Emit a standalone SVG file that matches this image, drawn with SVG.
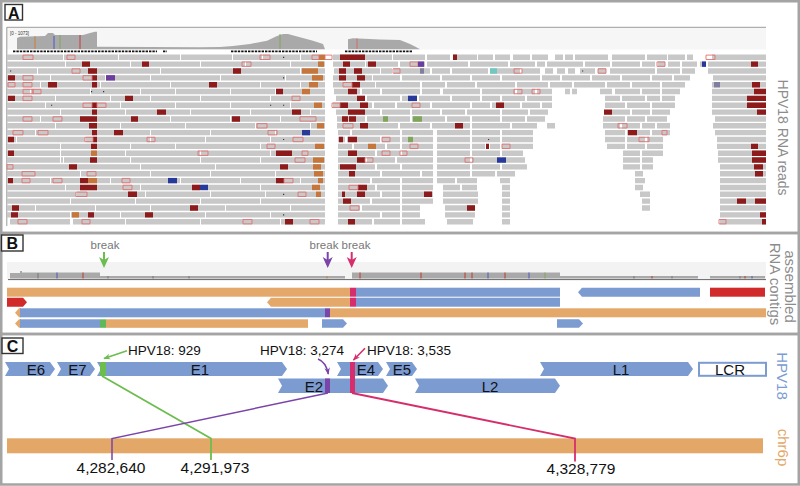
<svg xmlns="http://www.w3.org/2000/svg" width="800" height="486" viewBox="0 0 800 486">
<style>
text{font-family:'Liberation Sans',Arial,Helvetica,sans-serif}
.frame{fill:none;stroke:#a4a4a4;stroke-width:2.5}
.lab{fill:#fff;stroke:#333;stroke-width:1.4}
.labt{font-size:16px;font-weight:bold;text-anchor:middle;fill:#111}
.r{fill:none;stroke:#c8c8c8;stroke-width:5.4}
.m{fill:none;stroke:#8e1b1b;stroke-width:5.4}
.o{fill:none;stroke:#c6763a;stroke-width:5.4}
.b{fill:none;stroke:#27399a;stroke-width:5.4}
.p{fill:none;stroke:#6a3d9e;stroke-width:5.4}
.g{fill:none;stroke:#7ea65a;stroke-width:5.4}
.gp{fill:none;stroke:#7f7f9f;stroke-width:5.4}
.t{fill:none;stroke:#70c8c0;stroke-width:5.4}
.k{fill:none;stroke:#e07070;stroke-width:.9}
.dt{fill:#333}
.side{font-size:14px;fill:#8c8c8c;text-anchor:middle}
.gene{fill:#7b9bd1}
.gl{font-size:15px;text-anchor:middle;fill:#111}
.ann{font-size:13.5px;fill:#111}
.num{font-size:15.5px;text-anchor:middle;fill:#111}
.brk{font-size:11.5px;text-anchor:middle;fill:#777}
.cov{fill:#a9a9a9}
.co{fill:#e3a86a}
.cb{fill:#7b9bd1}
.cr{fill:#d12a2a}
.cpk{fill:#d62e6c}
.cpu{fill:#7a44a8}
.cgr{fill:#5fb85a}
</style>
<defs>
<marker id="ah-g" viewBox="0 0 10 10" refX="9" refY="5" markerWidth="7" markerHeight="7" markerUnits="userSpaceOnUse" orient="auto"><path d="M0 1L10 5L0 9L3 5Z" fill="#6cbd4f"/></marker>
<marker id="ah-p" viewBox="0 0 10 10" refX="9" refY="5" markerWidth="7" markerHeight="7" markerUnits="userSpaceOnUse" orient="auto"><path d="M0 1L10 5L0 9L3 5Z" fill="#7a44a8"/></marker>
<marker id="ah-k" viewBox="0 0 10 10" refX="9" refY="5" markerWidth="7" markerHeight="7" markerUnits="userSpaceOnUse" orient="auto"><path d="M0 1L10 5L0 9L3 5Z" fill="#d62e6c"/></marker>
</defs>
<rect width="800" height="486" fill="#fff"/>

<!-- PANEL A -->
<g id="panel-a">
<rect class="frame" x="1.25" y="1.25" width="797.5" height="231.75"/>
<rect class="lab" x="5" y="4.5" width="17.5" height="15.5"/>
<text class="labt" x="13.8" y="18.5">A</text>
<rect x="7" y="28" width="759" height="21.5" fill="#f6f6f6"/>
<path d="M7 27.3H766M6.8 27V226" stroke="#9a9a9a" stroke-width="1" fill="none"/>
<text x="10" y="34.5" font-size="4.5" fill="#333">[0 - 1073]</text>
<path class="cov" d="M17 49.3V38L20 36.7L45 36L48 33L53 33L55 35L83 35L90 33L95 31.7L97 31.7V46.7L150 47L200 47.3L220 47L233 46L250 44L267 40.7L277 36L283 34L288 34L300 37.3L313 40.7L323 44L325 49.3Z"/>
<path class="cov" d="M348 49.3V39.3L353 38.3L380 39.5L400 40L405 42L410 44L415 46.5L420 49.3Z"/>
<g stroke-width="1" fill="none">
<path stroke="#c87d3a" d="M35 36.2V49"/><path stroke="#4a5bc0" d="M54 36V49"/><path stroke="#7fa858" d="M60 35V49"/><path stroke="#c83a3a" d="M80 35V49"/><path stroke="#7fa858" d="M280 34V49"/><path stroke="#d86a6a" d="M357 38.5V49"/>
</g>
<path d="M13 51.3H157M163 51.3H167M231 51.3H317M345 51.3H412" stroke="#111" stroke-width="1.8" stroke-dasharray="2.4 1" fill="none"/>

<g id="reads">
<g transform="translate(0,57.3)">
<path class="r" d="M7 0H63M64 0H118M119 0H180M181 0H232M233 0H262M263 0H300M301 0H325M333 0H392M393 0H425M427 0H450M453 0H477M478 0H493M495 0H510M513 0H530M532 0H548M555 0H563M565 0H573M575 0H608M612 0H645M647 0H667M668 0H685M687 0H693M712 0H766"/>
<path class="m" d="M340 0H365M453 0H457"/><path class="o" d="M319 0H325"/>
<path class="k" d="M23-2.2h10v4.4h-10zM67-2.2h8v4.4h-8zM260-2.2h10v4.4h-10zM312-2.2h7v4.4h-7zM325-2.2h7v4.4h-7zM706-2.2h9v4.4h-9z"/>
<path class="dt" d="M283-.6h1.2v1.2h-1.2z"/>
</g>
<g transform="translate(0,64.15)">
<path class="r" d="M7 0H65M66 0H130M131 0H200M201 0H245M246 0H290M291 0H325M333 0H365M366 0H398M400 0H425M427 0H468M470 0H508M510 0H535M537 0H545M547 0H583M585 0H610M612 0H640M642 0H655M658 0H665M668 0H680M682 0H697M700 0H706M708 0H766"/>
<path class="m" d="M82 0H90M142 0H149M343 0H350M368 0H376M751 0H758"/>
<path class="k" d="M242-2.2h9v4.4h-9zM410-2.2h8v4.4h-8zM657-2.2h8v4.4h-8z"/>
<path class="o" d="M318 0H324"/><path class="p" d="M418 0H424"/><path class="b" d="M702 0H706"/>
</g>
<g transform="translate(0,71)">
<path class="r" d="M7 0H37M38 0H95M96 0H160M161 0H235M236 0H300M301 0H325M334 0H380M381 0H392M394 0H430M432 0H450M452 0H488M490 0H520M522 0H540M545 0H553M557 0H565M568 0H575M580 0H595M598 0H606M610 0H655M657 0H680M682 0H695M708 0H766"/>
<path class="m" d="M88 0H97M233 0H241M339 0H346M354 0H362"/>
<path class="k" d="M72-2.2h8v4.4h-8zM393-2.2h7v4.4h-7zM514-2.2h8v4.4h-8zM598-2.2h8v4.4h-8z"/>
<path class="o" d="M302 0H318"/><path class="gp" d="M420 0H424"/><path class="t" d="M490 0H497"/>
<path class="dt" d="M10-.6h1.2v1.2h-1.2zM582-.6h1.2v1.2h-1.2z"/>
</g>
<g transform="translate(0,77.85)">
<path class="r" d="M7 0H50M51 0H105M106 0H150M151 0H220M221 0H285M286 0H325M333 0H372M373 0H400M402 0H440M442 0H470M472 0H500M502 0H540M542 0H560M562 0H590M592 0H620M622 0H650M652 0H672M674 0H690M713 0H766"/>
<path class="m" d="M8 0H15M92 0H97M339 0H346M357 0H365"/>
<path class="k" d="M23-2.2h10v4.4h-10zM83-2.2h9v4.4h-9z"/>
<path class="p" d="M106 0H115"/><path class="o" d="M312 0H323"/>
<path class="dt" d="M283-.6h1.2v1.2h-1.2z"/>
</g>
<g transform="translate(0,84.7)">
<path class="r" d="M7 0H40M41 0H100M101 0H170M171 0H210M211 0H260M261 0H300M301 0H325M333 0H375M376 0H420M422 0H445M447 0H475M477 0H515M517 0H548M550 0H572M574 0H605M607 0H630M632 0H660M662 0H685M712 0H766"/>
<path class="m" d="M48 0H57M92 0H97M209 0H217M352 0H360M752 0H760"/>
<path class="k" d="M8-2.2h7v4.4h-7zM23-2.2h9v4.4h-9zM343-2.2h9v4.4h-9z"/>
<path class="o" d="M309 0H318"/><path class="gp" d="M714 0H720"/>
</g>
<g transform="translate(0,91.55)">
<path class="r" d="M7 0H30M31 0H90M91 0H140M141 0H175M176 0H230M231 0H275M276 0H325M334 0H360M362 0H380M382 0H420M422 0H440M443 0H480M482 0H515M517 0H535M537 0H552M565 0H570M572 0H577M600 0H612M615 0H640M642 0H660M662 0H680M712 0H766"/>
<path class="k" d="M23-2.2h10v4.4h-10zM33-2.2h8v4.4h-8zM514-2.2h8v4.4h-8zM532-2.2h8v4.4h-8z"/>
<path class="m" d="M276 0H283M348 0H357M754 0H766"/><path class="o" d="M302 0H310"/>
<path class="dt" d="M91-.6h1.2v1.2h-1.2zM103-.6h1.2v1.2h-1.2z"/>
</g>
<g transform="translate(0,98.4)">
<path class="r" d="M7 0H55M56 0H110M111 0H150M151 0H200M201 0H270M271 0H325M336 0H365M367 0H400M402 0H417M419 0H450M452 0H480M482 0H500M502 0H525M527 0H552M605 0H620M622 0H645M647 0H660M662 0H675M712 0H766"/>
<path class="m" d="M8 0H15M125 0H133M357 0H365M747 0H766"/>
<path class="k" d="M23-2.2h9v4.4h-9zM292-2.2h8v4.4h-8z"/><path class="b" d="M408 0H417"/>
</g>
<g transform="translate(0,105.25)">
<path class="r" d="M7 0H45M46 0H120M121 0H175M176 0H230M231 0H290M291 0H325M333 0H372M374 0H395M397 0H430M432 0H470M472 0H490M492 0H520M522 0H540M542 0H552M605 0H625M627 0H650M652 0H675M712 0H766"/>
<path class="m" d="M92 0H97M340 0H348M360 0H368M496 0H504M747 0H766"/>
<path class="k" d="M83-2.2h9v4.4h-9zM97-2.2h9v4.4h-9zM332-2.2h8v4.4h-8zM412-2.2h8v4.4h-8z"/>
<path class="o" d="M314 0H322"/>
<path class="dt" d="M51-.6h1.2v1.2h-1.2zM270-.6h1.2v1.2h-1.2zM283-.6h1.2v1.2h-1.2z"/>
</g>
<g transform="translate(0,112.1)">
<path class="r" d="M7 0H60M61 0H125M126 0H190M191 0H250M251 0H310M311 0H325M336 0H380M382 0H410M412 0H440M442 0H465M467 0H500M502 0H528M530 0H548M612 0H630M632 0H650M652 0H670M712 0H766"/>
<path class="m" d="M92 0H97M157 0H166M292 0H301M348 0H365M604 0H612M757 0H766"/>
</g>
<g transform="translate(0,118.95)">
<path class="r" d="M7 0H40M41 0H95M96 0H170M171 0H230M231 0H280M281 0H325M337 0H365M367 0H410M412 0H445M447 0H470M472 0H500M502 0H525M527 0H545M603 0H625M627 0H645M647 0H667M715 0H766"/>
<path class="k" d="M23-2.2h9v4.4h-9zM53-2.2h9v4.4h-9zM300-2.2h16v4.4h-16z"/>
<path class="m" d="M80 0H97M131 0H138M232 0H240M342 0H348M349 0H356"/>
<path class="g" d="M383 0H388M413 0H422"/>
</g>
<g transform="translate(0,125.8)">
<path class="r" d="M7 0H55M56 0H120M121 0H185M186 0H255M256 0H310M311 0H325M337 0H360M362 0H398M400 0H430M432 0H470M472 0H510M512 0H537M547 0H555M603 0H620M622 0H640M642 0H655M657 0H670M713 0H766"/>
<path class="m" d="M89 0H97M360 0H368M455 0H463"/>
<path class="k" d="M257-2.2h10v4.4h-10zM343-2.2h10v4.4h-10zM618-2.2h9v4.4h-9z"/>
<path class="o" d="M317 0H324"/>
</g>
<g transform="translate(0,132.65)">
<path class="r" d="M7 0H35M36 0H95M96 0H150M151 0H210M211 0H275M276 0H325M338 0H350M352 0H400M402 0H433M437 0H470M472 0H500M502 0H533M605 0H625M627 0H650M652 0H670M715 0H766"/>
<path class="k" d="M13-2.2h10v4.4h-10zM38-2.2h10v4.4h-10zM268-2.2h9v4.4h-9zM662-2.2h5v4.4h-5z"/>
<path class="m" d="M92 0H97M114 0H123M628 0H637"/><path class="b" d="M302 0H310"/>
</g>
<g transform="translate(0,139.5)">
<path class="r" d="M7 0H16M17 0H85M86 0H150M151 0H205M206 0H270M271 0H325M338 0H345M347 0H380M382 0H400M402 0H433M437 0H470M472 0H500M502 0H533M605 0H625M627 0H645M647 0H663M717 0H766"/>
<path class="m" d="M8 0H14M93 0H97M339 0H343M348 0H357"/>
<path class="k" d="M85-2.2h8v4.4h-8zM147-2.2h8v4.4h-8zM293-2.2h10v4.4h-10zM382-2.2h8v4.4h-8zM639-2.2h10v4.4h-10z"/>
<path class="g" d="M408 0H413"/>
<path class="dt" d="M283-.6h1.2v1.2h-1.2zM488-.6h1.2v1.2h-1.2z"/>
</g>
<g transform="translate(0,146.35)">
<path class="r" d="M7 0H60M61 0H130M131 0H175M176 0H260M261 0H325M338 0H352M354 0H385M387 0H400M402 0H433M437 0H470M472 0H485M490 0H500M502 0H533M607 0H625M627 0H645M647 0H663M717 0H766"/>
<path class="m" d="M91 0H97M486 0H489M751 0H758"/>
<path class="k" d="M267-2.2h8v4.4h-8zM410-2.2h8v4.4h-8zM502-2.2h8v4.4h-8z"/>
<path class="o" d="M315 0H324M368 0H376"/>
</g>
<g transform="translate(0,153.2)">
<path class="r" d="M7 0H60M61 0H125M126 0H200M201 0H270M271 0H325M338 0H375M377 0H400M402 0H433M437 0H470M472 0H500M502 0H523M623 0H640M642 0H663M718 0H766"/>
<path class="m" d="M8 0H14M276 0H292M348 0H357M752 0H766"/><path class="o" d="M91 0H97"/>
<path class="k" d="M198-2.2h10v4.4h-10zM302-2.2h6v4.4h-6zM382-2.2h8v4.4h-8zM400-2.2h7v4.4h-7z"/>
</g>
<g transform="translate(0,160.05)">
<path class="r" d="M7 0H60M61 0H63M64 0H130M131 0H200M201 0H260M261 0H325M338 0H365M367 0H395M397 0H433M437 0H470M472 0H500M502 0H525M623 0H640M642 0H653M718 0H766"/>
<path class="m" d="M90 0H97M357 0H365M752 0H766"/>
<path class="k" d="M295-2.2h10v4.4h-10zM365-2.2h8v4.4h-8zM465-2.2h8v4.4h-8z"/>
<path class="o" d="M313 0H324"/><path class="b" d="M497 0H506"/>
</g>
<g transform="translate(0,166.9)">
<path class="r" d="M7 0H70M71 0H140M141 0H215M216 0H280M281 0H325M338 0H375M377 0H400M402 0H433M437 0H470M472 0H500M502 0H527M623 0H640M642 0H653M720 0H766"/>
<path class="k" d="M7-2.2h6v4.4h-6z"/>
<path class="m" d="M69 0H77M280 0H288M340 0H356M754 0H763"/><path class="o" d="M313 0H321"/>
</g>
<g transform="translate(0,173.75)">
<path class="r" d="M7 0H80M81 0H150M151 0H210M211 0H275M276 0H325M338 0H380M382 0H420M422 0H433M437 0H470M472 0H495M497 0H515M635 0H643M720 0H766"/>
<path class="k" d="M22-2.2h13v4.4h-13zM87-2.2h9v4.4h-9z"/>
<path class="o" d="M314 0H323"/><path class="m" d="M349 0H355M755 0H763"/>
</g>
<g transform="translate(0,180.6)">
<path class="r" d="M7 0H50M51 0H110M111 0H180M181 0H240M241 0H300M301 0H325M338 0H370M372 0H400M402 0H433M437 0H455M457 0H477M500 0H510M635 0H645M720 0H766"/>
<path class="m" d="M8 0H13M80 0H88M276 0H284"/><path class="o" d="M88 0H97M318 0H323"/>
<path class="k" d="M22-2.2h8v4.4h-8zM53-2.2h9v4.4h-9zM122-2.2h8v4.4h-8zM284-2.2h9v4.4h-9z"/>
<path class="b" d="M168 0H177"/>
</g>
<g transform="translate(0,187.45)">
<path class="r" d="M7 0H65M66 0H140M141 0H200M201 0H260M261 0H325M338 0H375M377 0H400M402 0H433M443 0H460M462 0H477M502 0H510M635 0H643M720 0H766"/>
<path class="m" d="M80 0H97M192 0H200M358 0H367"/><path class="b" d="M200 0H208"/>
<path class="k" d="M123-2.2h9v4.4h-9zM349-2.2h9v4.4h-9z"/><path class="o" d="M312 0H320"/>
</g>
<g transform="translate(0,194.3)">
<path class="r" d="M7 0H76M77 0H145M146 0H210M211 0H265M266 0H325M338 0H342M345 0H380M382 0H400M402 0H433M443 0H478M502 0H510M640 0H650M720 0H766"/>
<path class="k" d="M76-2.2h11v4.4h-11zM298-2.2h8v4.4h-8z"/>
<path class="m" d="M128 0H137M342 0H345M357 0H365M424 0H432"/><path class="o" d="M316 0H321"/>
<path class="dt" d="M283-.6h1.2v1.2h-1.2z"/>
</g>
<g transform="translate(0,201.15)">
<path class="r" d="M7 0H70M71 0H135M136 0H200M201 0H260M261 0H325M338 0H370M372 0H400M402 0H433M443 0H478M502 0H510M642 0H650M720 0H766"/>
<path class="m" d="M343 0H351M737 0H746M755 0H766"/>
</g>
<g transform="translate(0,208)">
<path class="r" d="M7 0H35M36 0H95M96 0H150M151 0H225M226 0H290M291 0H325M338 0H360M362 0H400M402 0H420M445 0H475M502 0H510M642 0H650M720 0H766"/>
<path class="m" d="M12 0H19M190 0H198M467 0H475"/><path class="k" d="M350-2.2h9v4.4h-9z"/>
</g>
<g transform="translate(0,214.85)">
<path class="r" d="M7 0H70M71 0H120M121 0H205M206 0H270M271 0H325M338 0H380M382 0H400M402 0H420M445 0H475M502 0H510M720 0H766"/>
<path class="m" d="M11 0H18M88 0H94M145 0H153M760 0H766"/><path class="o" d="M72 0H79"/>
<path class="dt" d="M283-.6h1.2v1.2h-1.2z"/>
</g>
<g transform="translate(0,221.7)">
<path class="r" d="M10 0H70M73 0H125M126 0H200M201 0H280M281 0H325M338 0H372M374 0H400M402 0H425M447 0H473M502 0H510M720 0H766"/>
<path class="k" d="M18-2.2h9v4.4h-9zM82-2.2h8v4.4h-8zM243-2.2h9v4.4h-9zM310-2.2h9v4.4h-9zM719-2.2h7v4.4h-7z"/>
<path class="m" d="M285 0H293M348 0H355M762 0H766"/>
</g>
</g>
<text class="side" transform="translate(778,137.5) rotate(90)">HPV18 RNA reads</text>
</g>

<!-- PANEL B -->
<g id="panel-b">
<rect class="frame" x="1.25" y="233" width="797.5" height="101"/>
<rect class="lab" x="1.5" y="235" width="21.5" height="16"/>
<text class="labt" x="12.2" y="249.3">B</text>
<rect x="7" y="262" width="759" height="17" fill="#f3f3f3"/>
<path class="cov" d="M10 278.5V273H20V271H22V272.5H100V276H345V278.5Z"/>
<path class="cov" d="M352 278.5V272.5H560V276H698V278.5Z"/>
<path class="cov" d="M710 276H765V278.5H710Z"/>
<g stroke-width="1" fill="none">
<path stroke="#c0392b" d="M83 272.5V278.5M360 272.5V278.5M421 272.5V278.5M465 272.5V278.5M472 272.5V278.5M505 272.5V278.5M652 276V278.5M745 276V278.5"/>
<path stroke="#4a5bc0" d="M57 272.5V278.5M488 272.5V278.5M529 272.5V278.5M752 276V278.5"/>
<path stroke="#7fa858" d="M545 272.5V278.5"/>
<path stroke="#777" d="M38 273V278.5M108 276V278.5M153 276V278.5M189 276V278.5M634 276V278.5M672 276V278.5M740 276V278.5"/>
<path stroke="#c87d3a" d="M327 276V278.5"/>
</g>
<path d="M8 279.6H766" stroke="#666" stroke-width="1"/>
<g id="break-green">
<text class="brk" x="105" y="249">break</text>
<path d="M104 252V261" stroke="#6cbd4f" stroke-width="2"/>
<polygon points="104,268 99,257 104,260 109,257" fill="#6cbd4f"/>
</g>
<g id="break-purple">
<text class="brk" x="324" y="249">break</text>
<path d="M327.7 252V261" stroke="#7a44a8" stroke-width="2"/>
<polygon points="327.7,268 322.7,257 327.7,260 332.7,257" fill="#7a44a8"/>
</g>
<g id="break-pink">
<text class="brk" x="356" y="249">break</text>
<path d="M351.7 252V261" stroke="#d62e6c" stroke-width="2"/>
<polygon points="351.7,268 346.7,257 351.7,260 356.7,257" fill="#d62e6c"/>
</g>
<g id="contigs">
<rect class="co" x="7" y="287.7" width="343" height="9"/>
<rect class="cpk" x="350" y="287.7" width="6" height="9"/>
<rect class="cb" x="356" y="287.7" width="204" height="9"/>
<polygon class="cb" points="578,292.2 582,287.7 700,287.7 700,296.7 582,296.7"/>
<rect class="cr" x="710" y="287.7" width="55" height="9"/>
<polygon class="cr" points="7,297.7 23,297.7 27,302.2 23,306.7 7,306.7"/>
<polygon class="co" points="267,302.2 271,297.7 350,297.7 350,306.7 271,306.7"/>
<rect class="cpk" x="350" y="297.7" width="6" height="9"/>
<rect class="cb" x="356" y="297.7" width="204" height="9"/>
<polygon class="co" points="15,312.8 19,308.3 21,308.3 21,317.3 19,317.3"/>
<rect class="cb" x="20" y="308.3" width="305" height="9"/>
<rect class="cpu" x="325" y="308.3" width="5" height="9"/>
<rect class="co" x="330" y="308.3" width="436" height="9"/>
<polygon class="co" points="15,323.5 19,319.3 21,319.3 21,327.8 19,327.8"/>
<rect class="cb" x="20" y="319.3" width="80" height="8.5"/>
<rect class="cgr" x="100" y="319.3" width="6" height="8.5"/>
<rect class="co" x="106" y="319.3" width="202" height="8.5"/>
<polygon class="cb" points="322,319.3 343,319.3 347,323.5 343,327.8 322,327.8"/>
<polygon class="cb" points="557,319.3 579,319.3 583,323.5 579,327.8 557,327.8"/>
</g>
<text class="side" style="font-size:15px" transform="translate(785,286.5) rotate(90)">assembled</text>
<text class="side" style="font-size:15px" transform="translate(770,284) rotate(90)">RNA contigs</text>
</g>

<!-- PANEL C -->
<g id="panel-c">
<rect class="frame" x="1.25" y="334" width="797.5" height="150.5"/>
<rect class="lab" x="2" y="338" width="21" height="15.5"/>
<text class="labt" x="12.5" y="351.8">C</text>
<g id="gene-E6"><polygon class="gene" points="5,362 50,362 55,369 50,376 5,376 9,369"/><text class="gl" x="36" y="375">E6</text></g>
<g id="gene-E7"><polygon class="gene" points="57,362 90,362 95,369 90,376 57,376 61,369"/><text class="gl" x="77.5" y="375">E7</text></g>
<g id="gene-E1"><polygon class="gene" points="97,362 282,362 287,369 282,376 97,376 101,369"/><text class="gl" x="200" y="375">E1</text></g>
<g id="gene-E2"><polygon class="gene" points="278,378.5 383,378.5 388,385.75 383,393 278,393 282,385.75"/><text class="gl" x="314" y="391.7">E2</text></g>
<g id="gene-E4"><polygon class="gene" points="337,362 378,362 383,369 378,376 337,376 341,369"/><text class="gl" x="366" y="375">E4</text></g>
<g id="gene-E5"><polygon class="gene" points="386,362 412,362 417,369 412,376 386,376 390,369"/><text class="gl" x="402" y="375">E5</text></g>
<g id="gene-L2"><polygon class="gene" points="415,378.5 555,378.5 560,385.75 555,393 415,393 419,385.75"/><text class="gl" x="490" y="391.7">L2</text></g>
<g id="gene-L1"><polygon class="gene" points="540,362 688,362 693,369 688,376 540,376 544,369"/><text class="gl" x="621" y="375">L1</text></g>
<g id="gene-LCR"><rect x="699" y="362.8" width="67" height="13" fill="#fff" stroke="#7b9bd1" stroke-width="2"/><text class="gl" x="730" y="375">LCR</text></g>
<g id="chr6p"><rect x="7" y="438.3" width="756" height="15" fill="#e3a868"/></g>
<g id="connectors" fill="none">
<rect x="100" y="362" width="6" height="14" fill="#6cbd4f"/>
<rect x="325" y="378.5" width="5" height="14.5" fill="#7a44a8"/>
<rect x="350" y="362" width="5" height="31" fill="#d62e6c"/>
<polyline points="102,376 211,438.5 211,460" stroke="#6cbd4f" stroke-width="1.8"/>
<polyline points="328,393 112,438.5 112,460" stroke="#7a44a8" stroke-width="1.5"/>
<polyline points="352,393 575,438.5 575,461.5" stroke="#d62e6c" stroke-width="1.8"/>
<path d="M127 350.7L104 358.5" stroke="#6cbd4f" stroke-width="1.6" marker-end="url(#ah-g)"/>
<path d="M318 359Q326 362 328.3 374" stroke="#7a44a8" stroke-width="1.6" marker-end="url(#ah-p)"/>
<path d="M365 348.3L353.5 360" stroke="#d62e6c" stroke-width="1.6" marker-end="url(#ah-k)"/>
</g>
<text class="ann" x="128" y="355">HPV18: 929</text>
<text class="ann" x="260" y="355">HPV18: 3,274</text>
<text class="ann" x="367" y="355">HPV18: 3,535</text>
<text class="num" x="111" y="473.3">4,282,640</text>
<text class="num" x="215" y="473.3">4,291,973</text>
<text class="num" x="581" y="473.8">4,328,779</text>
<text class="side" style="font-size:15px;fill:#7b9bd1" transform="translate(777,376) rotate(90)">HPV18</text>
<text class="side" style="font-size:15px;fill:#e3a868" transform="translate(778,447.5) rotate(90)">chr6p</text>
</g>
</svg>
